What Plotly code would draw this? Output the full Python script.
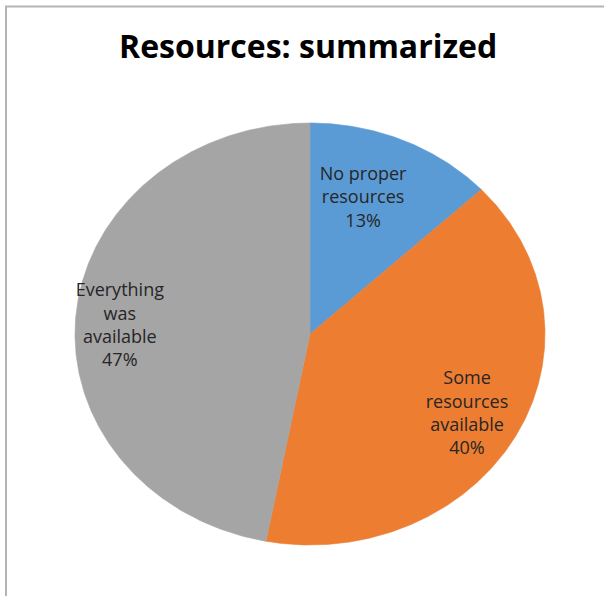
import numpy as np
import plotly.graph_objects as go

# Survey answers and their shares (percent)
categories = ["No proper resources", "Some resources available", "Everything was available"]
label_lines = ["No proper<br>resources", "Some<br>resources<br>available", "Everything<br>was<br>available"]
values = [13, 40, 47]
colors = ["#5B9BD5", "#ED7D31", "#A5A5A5"]

# Geometry of the pie (pixel canvas 604 x 596, pie drawn in unit coordinates)
W, H = 604, 596
CX, CY = 310, 334          # pie centre in pixels
RX, RY = 235, 211          # horizontal / vertical radius in pixels
label_radius = [0.68, 0.77, 0.81]
label_angle_shift = [-4, 1, -3]   # degrees, fine placement of the data labels

fig = go.Figure()

total = float(sum(values))
start = 0.0
for name, txt, v, col, lr, sh in zip(categories, label_lines, values, colors,
                                     label_radius, label_angle_shift):
    sweep = 360.0 * v / total
    ang = np.radians(np.linspace(start, start + sweep, max(int(sweep * 2), 4)))
    # clockwise from 12 o'clock
    xs = np.concatenate([[0.0], np.sin(ang), [0.0]])
    ys = np.concatenate([[0.0], np.cos(ang), [0.0]])
    fig.add_trace(go.Scatter(
        x=xs, y=ys, mode="lines", fill="toself", fillcolor=col,
        line=dict(color=col, width=0.6), name=name, hoverinfo="name",
        showlegend=False,
    ))
    mid = np.radians(start + sweep / 2 + sh)
    fig.add_trace(go.Scatter(
        x=[lr * np.sin(mid)], y=[lr * np.cos(mid)], mode="text",
        text=[f"{txt}<br>{v}%"], textposition="middle center",
        textfont=dict(family="Open Sans", size=18, color="#262626"),
        hoverinfo="skip", showlegend=False,
    ))
    start += sweep

fig.update_layout(
    width=W, height=H,
    margin=dict(l=0, r=0, t=0, b=0),
    paper_bgcolor="white", plot_bgcolor="white",
    xaxis=dict(range=[-CX / RX, (W - CX) / RX], visible=False, fixedrange=True),
    yaxis=dict(range=[-(H - CY) / RY, CY / RY], visible=False, fixedrange=True),
    annotations=[dict(
        text="<b>Resources: summarized</b>", x=308 / W, y=1 - 45 / H,
        xref="paper", yref="paper", xanchor="center", yanchor="middle",
        showarrow=False, font=dict(family="Open Sans", size=32, color="#000000"),
    )],
    shapes=[dict(
        type="rect", xref="paper", yref="paper",
        x0=6 / W, x1=1.2, y0=-0.2, y1=1 - 6.5 / H,
        line=dict(color="#B4B4B4", width=2), layer="below",
    )],
)

fig.write_html("out.html")
